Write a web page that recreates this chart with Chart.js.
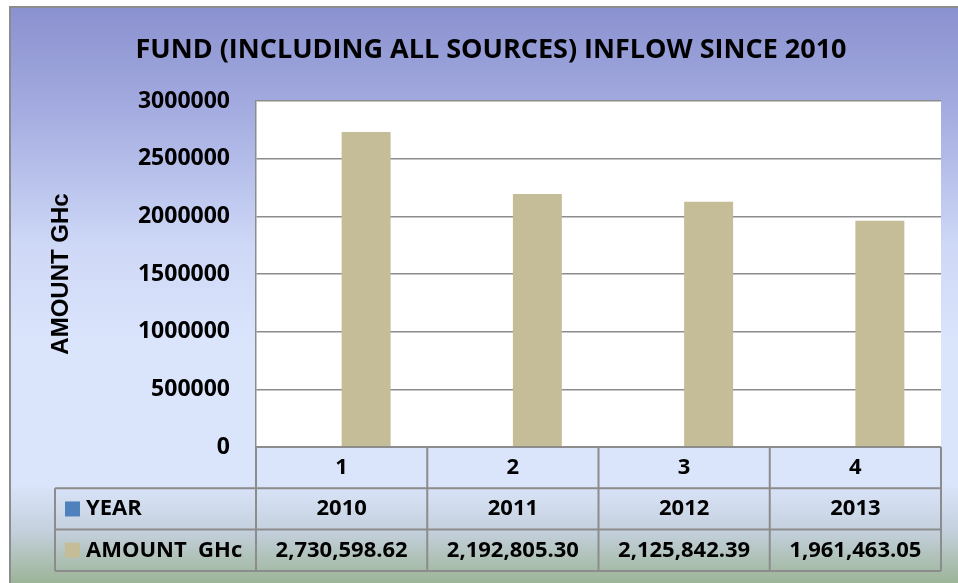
<!DOCTYPE html>
<html>
<head>
<meta charset="utf-8">
<script src="https://cdn.jsdelivr.net/npm/chart.js@4/dist/chart.umd.min.js"></script>
<style>
  html, body { margin: 0; padding: 0; background: #fff; }
</style>
</head>
<body>
<canvas id="fundChart" width="958" height="583"></canvas>
<script>
// Chart data
const chartTitle = 'FUND (INCLUDING ALL SOURCES) INFLOW SINCE 2010';
const categories = ['1', '2', '3', '4'];
const years = [2010, 2011, 2012, 2013];
const amounts = [2730598.62, 2192805.30, 2125842.39, 1961463.05];
const yTicks = [0, 500000, 1000000, 1500000, 2000000, 2500000, 3000000];
const seriesNames = ['YEAR', 'AMOUNT  GHc'];
const seriesColors = ['#4f81bd', '#c4bd97'];

const lineGrey = '#8c8c8c';
const fontFamily = '"Open Sans", Lato, sans-serif';
const boldFont = (size) => `bold ${size}px ${fontFamily}`;

// Gradient background, outer frame, white plot area and the title
const backgroundPlugin = {
    id: 'background',
    beforeDraw(chart) {
        const { ctx, width, height, chartArea: a } = chart;
        ctx.save();
        ctx.fillStyle = '#fff';
        ctx.fillRect(0, 0, width, height);

        const g = ctx.createLinearGradient(0, 7, 0, height);
        g.addColorStop(0, '#8a91cf');
        g.addColorStop(0.17, '#a2aadf');
        g.addColorStop(0.42, '#cfd9f7');
        g.addColorStop(0.58, '#dae4fb');
        g.addColorStop(0.83, '#dae4fa');
        g.addColorStop(0.91, '#c4d0dd');
        g.addColorStop(1, '#9cb497');
        ctx.fillStyle = g;
        ctx.fillRect(10, 7, width - 10, height - 7);

        ctx.strokeStyle = lineGrey;
        ctx.lineWidth = 2;
        ctx.beginPath();
        ctx.moveTo(10, height);
        ctx.lineTo(10, 7);
        ctx.lineTo(width, 7);
        ctx.stroke();

        ctx.fillStyle = '#fff';
        ctx.fillRect(a.left, a.top, a.width, a.height);

        ctx.fillStyle = '#000';
        ctx.font = boldFont(27);
        ctx.textAlign = 'center';
        ctx.textBaseline = 'middle';
        ctx.fillText(chartTitle, 491, 50);
        ctx.restore();
    }
};

// Data table under the plot (Excel style)
const dataTablePlugin = {
    id: 'dataTable',
    afterDraw(chart) {
        const { ctx, chartArea: a, scales } = chart;
        const xs = scales.x;
        const colW = a.width / categories.length;
        const rowH = 41.3;
        const top = a.bottom;
        const legendLeft = 55;

        ctx.save();
        ctx.strokeStyle = lineGrey;
        ctx.lineWidth = 2;
        ctx.beginPath();
        // horizontal lines
        ctx.moveTo(a.left, top); ctx.lineTo(a.right, top);
        for (let r = 1; r <= 3; r++) {
            const y = top + r * rowH;
            ctx.moveTo(legendLeft, y); ctx.lineTo(a.right, y);
        }
        // vertical lines
        ctx.moveTo(legendLeft, top + rowH); ctx.lineTo(legendLeft, top + 3 * rowH);
        for (let i = 0; i <= categories.length; i++) {
            const x = a.left + i * colW;
            ctx.moveTo(x, top); ctx.lineTo(x, top + 3 * rowH);
        }
        ctx.stroke();

        ctx.fillStyle = '#000';
        ctx.font = boldFont(22);
        ctx.textAlign = 'center';
        ctx.textBaseline = 'middle';
        const rows = [
            categories,
            years.map(String),
            amounts.map(v => v.toLocaleString('en-US', { minimumFractionDigits: 2, maximumFractionDigits: 2 }))
        ];
        rows.forEach((row, r) => {
            const y = top + r * rowH + rowH / 2;
            row.forEach((txt, i) => {
                ctx.fillText(txt, xs.getPixelForTick(i), y);
            });
        });

        // legend keys
        ctx.textAlign = 'left';
        seriesNames.forEach((name, s) => {
            const y = top + (s + 1) * rowH + rowH / 2;
            ctx.fillStyle = seriesColors[s];
            ctx.fillRect(65, y - 7.5, 15, 15);
            ctx.fillStyle = '#000';
            ctx.fillText(name, 86, y);
        });
        ctx.restore();
    }
};

new Chart(document.getElementById('fundChart'), {
    type: 'bar',
    data: {
        labels: categories,
        datasets: [
            { label: seriesNames[0], data: years, backgroundColor: seriesColors[0], borderWidth: 0 },
            { label: seriesNames[1], data: amounts, backgroundColor: seriesColors[1], borderWidth: 0 }
        ]
    },
    options: {
        responsive: false,
        animation: false,
        layout: { padding: { top: 101, left: 10, right: 17, bottom: 136 } },
        datasets: { bar: { categoryPercentage: 0.572, barPercentage: 1.0 } },
        plugins: {
            legend: { display: false },
            title: { display: false },
            tooltip: { enabled: false }
        },
        scales: {
            x: { display: false },
            y: {
                min: 0,
                max: 3000000,
                afterBuildTicks: (s) => { s.ticks = yTicks.map(v => ({ value: v })); },
                afterFit: (s) => { s.width = 246; },
                grid: { color: lineGrey, lineWidth: 1.5, drawTicks: false },
                border: { display: true, color: lineGrey, width: 1.5 },
                ticks: {
                    padding: 26,
                    color: '#000',
                    font: { family: fontFamily, weight: 'bold', size: 23 },
                    callback: (v) => String(v)
                },
                title: {
                    display: true,
                    text: 'AMOUNT GHc',
                    color: '#000',
                    font: { family: 'Liberation Sans', weight: 'bold', size: 24 },
                    padding: { top: 37, bottom: 0 }
                }
            }
        }
    },
    plugins: [backgroundPlugin, dataTablePlugin]
});
</script>
</body>
</html>
